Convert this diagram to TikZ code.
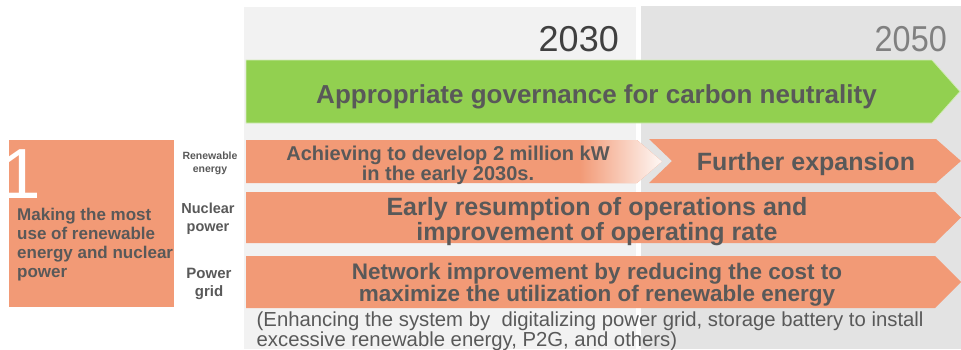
\documentclass[tikz,border=0pt]{standalone}
\usepackage{fontspec}
\usepackage{graphicx}
\setmainfont{Liberation Sans}
\definecolor{sal}{RGB}{242,154,118}
\definecolor{grn}{RGB}{146,208,80}
\definecolor{txt}{RGB}{89,89,89}
\definecolor{yrA}{RGB}{64,64,64}
\definecolor{yrB}{RGB}{128,128,128}
\definecolor{panL}{RGB}{242,242,242}
\definecolor{panR}{RGB}{227,227,227}
\begin{document}
\begin{tikzpicture}[x=1pt,y=-1pt,
  bartext/.style={text=txt, align=center, inner sep=0pt, font=\bfseries},
  sidelbl/.style={text=txt, align=center, inner sep=0pt, font=\bfseries},
  year/.style={anchor=base east, inner sep=0pt},
  salbar/.style={fill=sal}
]
\useasboundingbox (0,0) rectangle (961,349);
% background panels
\fill[panL] (244,7) rectangle (636,349);
\fill[panR] (641,6) rectangle (961,349);
% years
\node[year, text=yrA, font=\fontsize{36}{36}\selectfont] (y2030) at (619,51) {2030};
\node[year, text=yrB, font=\fontsize{36}{36}\selectfont] (y2050) at (947,51) {\scalebox{0.9}[1]{2050}};
% green arrow
\fill[grn, draw=white!60!grn, line width=0.8pt] (246,60) -- (932,60) -- (960,91.5) -- (932,123) -- (246,123) -- cycle;
\node[bartext, font=\bfseries\fontsize{26}{26}\selectfont] (gov) at (596.5,96.5) {Appropriate governance for carbon neutrality};
% row 1 left arrow with fade
\fill[salbar] (246,140) -- (637,140) -- (662,161.5) -- (637,183) -- (246,183) -- cycle;
\begin{scope}
  \clip (246,140) -- (637,140) -- (662,161.5) -- (637,183) -- (246,183) -- cycle;
  \shade[left color=sal, right color=sal!6] (580,139) rectangle (663,184);
\end{scope}
\node[bartext, font=\bfseries\fontsize{20}{17}\selectfont] (ren1) at (448,165.5) {Achieving to develop 2 million kW\\in the early 2030s.};
% row 1 right chevron
\fill[salbar] (649,139) -- (936,139) -- (961,161) -- (936,183) -- (649,183) -- (672,161) -- cycle;
\node[bartext, font=\bfseries\fontsize{25}{25}\selectfont] (ren2) at (806,164) {Further expansion};
% row 2
\fill[salbar] (246,192) -- (935,192) -- (961,217.5) -- (935,243) -- (246,243) -- cycle;
\node[bartext, font=\bfseries\fontsize{25}{21.5}\selectfont] (nuc) at (597,221.5) {Early resumption of operations and\\improvement of operating rate};
% row 3
\fill[salbar] (246,256) -- (935,256) -- (961,282) -- (935,308) -- (246,308) -- cycle;
\node[bartext, font=\bfseries\fontsize{22.5}{22}\selectfont] (grid) at (597,285) {Network improvement by reducing the cost to\\maximize the utilization of renewable energy};
% note
\node[text=txt, align=left, anchor=north west, inner sep=0pt, font=\fontsize{20.3}{12.5}\selectfont] (note) at (256.5,312) {(Enhancing the system by \ digitalizing power grid, storage battery to install\\excessive renewable energy, P2G, and others)};
% left box
\fill[salbar] (9,140) rectangle (174,307);
\node[anchor=base west, inner sep=0pt, text=white, font=\fontsize{71}{71}\selectfont] (num) at (1.5,198) {1};
\node[text=txt, align=left, anchor=west, inner sep=0pt, font=\bfseries\fontsize{17}{19}\selectfont] (title) at (17,245) {Making the most\\use of renewable\\energy and nuclear\\power};
% side labels
\node[sidelbl, font=\bfseries\fontsize{10.5}{13}\selectfont] (lren) at (210,163) {Renewable\\energy};
\node[sidelbl, font=\bfseries\fontsize{14.5}{18}\selectfont] (lnuc) at (208,219) {Nuclear\\power};
\node[sidelbl, font=\bfseries\fontsize{15}{18}\selectfont] (lgrid) at (209,284) {Power\\grid};
\end{tikzpicture}
\end{document}
